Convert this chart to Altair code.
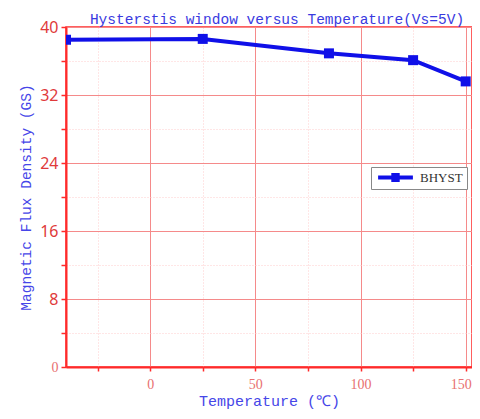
import altair as alt
import pandas as pd

temps = [-40, 25, 85, 125, 150]
bhyst = [38.5, 38.6, 36.9, 36.1, 33.6]
series = ["BHYST"] * len(temps)
x_ticks = [-25, 0, 25, 50, 75, 100, 125, 150]
y_ticks = [0, 4, 8, 12, 16, 20, 24, 28, 32, 36, 40]

df = pd.DataFrame({"T": temps, "B": bhyst, "s": series})

RED = "#ff2a2a"
BLUE = "#1010e8"

x_axis = alt.Axis(
    values=x_ticks,
    labelExpr="datum.value % 50 === 0 ? datum.label : ''",
    labelOffset={"condition": {"test": "datum.value === 150", "value": -5}, "value": 0},
    title="Temperature (℃)",
    titleFont="Liberation Mono", titleFontSize=15, titleFontWeight="normal",
    titleColor="#4646e8", titlePadding=2,
    labelFont="Liberation Serif", labelFontSize=14, labelColor="#e87070",
    labelPadding=6,
    domainColor=RED, domainWidth=2, tickColor=RED, tickSize=4, tickWidth=1.5,
    gridColor={"condition": {"test": "datum.value % 50 === 0", "value": "#f58a8a"}, "value": "#ffcccc"},
    gridDash={"condition": {"test": "datum.value % 50 === 0", "value": []}, "value": [1, 2]},
    gridWidth=1,
)
y_axis = alt.Axis(
    values=y_ticks,
    labelExpr="datum.value % 8 === 0 ? datum.label : ''",
    title="Magnetic Flux Density (GS)",
    titleFont="Liberation Mono", titleFontSize=14.5, titleFontWeight="normal",
    titleColor="#4646e8", titlePadding=6,
    labelFont={"condition": {"test": "datum.value === 0", "value": "Liberation Serif"}, "value": "Noto Sans"},
    labelFontSize={"condition": {"test": "datum.value === 0", "value": 14}, "value": 16},
    labelColor={"condition": {"test": "datum.value === 0", "value": "#e87070"}, "value": "#e03a3a"},
    labelPadding=3,
    domainColor=RED, domainWidth=2, tickColor=RED, tickSize=5, tickWidth=1.5,
    gridColor={"condition": {"test": "datum.value % 8 === 0", "value": "#f58a8a"}, "value": "#ffcccc"},
    gridDash={"condition": {"test": "datum.value % 8 === 0", "value": []}, "value": [1, 2]},
    gridWidth=1,
)

x = alt.X("T:Q", scale=alt.Scale(domain=[-40, 153], nice=False, zero=False), axis=x_axis)
y = alt.Y("B:Q", scale=alt.Scale(domain=[0, 40], nice=False), axis=y_axis)

legend_path = "M-2.9,-0.33H2.9V0.33H-2.9Z M-0.7,-0.75H0.7V0.75H-0.7Z"

line = alt.Chart(df).mark_line(strokeWidth=4, color=BLUE, clip=True).encode(
    x=x, y=y,
    color=alt.Color("s:N", scale=alt.Scale(range=[BLUE]),
                    legend=alt.Legend(
                        title=None, orient="none", legendX=305, legendY=140,
                        symbolType=legend_path, symbolSize=144, symbolFillColor=BLUE,
                        symbolStrokeWidth=0, symbolOffset=14,
                        labelFont="Liberation Serif", labelFontSize=13, labelColor="#333333",
                        labelOffset=18,
                        strokeColor="#888888", fillColor="white", padding=4,
                    )),
)
pts = alt.Chart(df).mark_square(size=100, color=BLUE, opacity=1, clip=True).encode(x=x, y=y)

chart = alt.layer(line, pts).properties(
    width=406, height=340,
    padding={"left": 58, "top": 19, "right": 0, "bottom": 44},
    autosize=alt.AutoSizeParams(type="none"),
    title=alt.TitleParams(
        "Hysterstis window versus Temperature(Vs=5V)",
        font="Liberation Mono", fontSize=14.5, fontWeight="normal", color="#3a3ae0",
        anchor="middle", offset=3, dx=8, dy=11,
    ),
).configure_view(stroke=RED, strokeWidth=1.5)

chart.save("out.html", embed_options={"renderer": "svg", "actions": False})
